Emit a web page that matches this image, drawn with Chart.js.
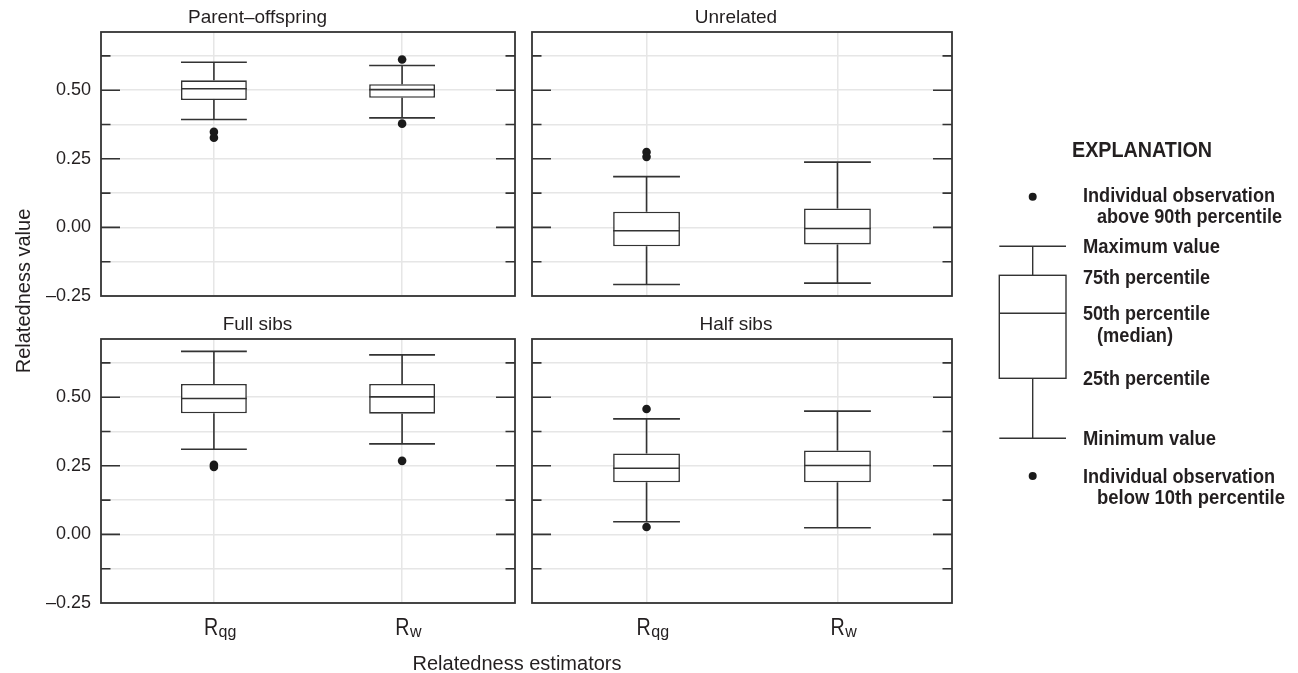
<!DOCTYPE html>
<html>
<head>
<meta charset="utf-8">
<script src="https://cdn.jsdelivr.net/npm/chart.js@4.4.1/dist/chart.umd.min.js"></script>
<style>
  html, body { margin: 0; padding: 0; background: #ffffff; width: 1298px; height: 673px; overflow: hidden; }
  canvas.panel { position: absolute; }
  svg#overlay { position: absolute; left: 0; top: 0; pointer-events: none; }
</style>
</head>
<body>
<canvas class="panel" id="p0"></canvas>
<canvas class="panel" id="p1"></canvas>
<canvas class="panel" id="p2"></canvas>
<canvas class="panel" id="p3"></canvas>

<svg id="overlay" width="1298" height="673" xmlns="http://www.w3.org/2000/svg">
  <text x="30" y="291" transform="rotate(-90 30 291)" text-anchor="middle"
        font-family="'Liberation Sans', Arial, sans-serif" font-size="20" fill="#231f20">Relatedness value</text>
  <text x="517" y="670" text-anchor="middle"
        font-family="'Liberation Sans', Arial, sans-serif" font-size="20" fill="#231f20">Relatedness estimators</text>

  <g font-family="'Liberation Sans', Arial, sans-serif" font-weight="bold" fill="#231f20">
    <text x="1072" y="157" font-size="22" textLength="140" lengthAdjust="spacingAndGlyphs">EXPLANATION</text>
    <text x="1083" y="202" font-size="20.5" textLength="192" lengthAdjust="spacingAndGlyphs">Individual observation</text>
    <text x="1097" y="223" font-size="20.5" textLength="185" lengthAdjust="spacingAndGlyphs">above 90th percentile</text>
    <text x="1083" y="253" font-size="20.5" textLength="137" lengthAdjust="spacingAndGlyphs">Maximum value</text>
    <text x="1083" y="284" font-size="20.5" textLength="127" lengthAdjust="spacingAndGlyphs">75th percentile</text>
    <text x="1083" y="320" font-size="20.5" textLength="127" lengthAdjust="spacingAndGlyphs">50th percentile</text>
    <text x="1097" y="342" font-size="20.5" textLength="76" lengthAdjust="spacingAndGlyphs">(median)</text>
    <text x="1083" y="385" font-size="20.5" textLength="127" lengthAdjust="spacingAndGlyphs">25th percentile</text>
    <text x="1083" y="445" font-size="20.5" textLength="133" lengthAdjust="spacingAndGlyphs">Minimum value</text>
    <text x="1083" y="483" font-size="20.5" textLength="192" lengthAdjust="spacingAndGlyphs">Individual observation</text>
    <text x="1097" y="504" font-size="20.5" textLength="188" lengthAdjust="spacingAndGlyphs">below 10th percentile</text>
  </g>
  <g stroke="#333" stroke-width="1.4" fill="none">
    <line x1="999.3" y1="246.3" x2="1066" y2="246.3"/>
    <line x1="1032.7" y1="246.3" x2="1032.7" y2="275.3"/>
    <rect x="999.3" y="275.3" width="66.7" height="103"/>
    <line x1="999.3" y1="313.3" x2="1066" y2="313.3"/>
    <line x1="1032.7" y1="378.3" x2="1032.7" y2="438.3"/>
    <line x1="999.3" y1="438.3" x2="1066" y2="438.3"/>
  </g>
  <circle cx="1032.7" cy="196.7" r="4" fill="#1a1a1a"/>
  <circle cx="1032.7" cy="476" r="4" fill="#1a1a1a"/>
</svg>

<script>
// ---------------- DATA ----------------
const panelTitles = ['Parent\u2013offspring', 'Unrelated', 'Full sibs', 'Half sibs'];
const estimatorMain = ['R', 'R'];
const estimatorSub = ['qg', 'w'];
const xPositions = [1, 2];
const yTickValues = [-0.25, -0.125, 0, 0.125, 0.25, 0.375, 0.5, 0.625];

// per panel: [Rqg, Rw]
const minValues    = [[0.393, 0.399], [-0.208, -0.203], [0.310, 0.330], [0.046, 0.024]];
const q1Values     = [[0.464, 0.472], [-0.069, -0.062], [0.441, 0.440], [0.190, 0.190]];
const medianValues = [[0.505, 0.502], [-0.012, -0.004], [0.495, 0.501], [0.241, 0.251]];
const q3Values     = [[0.536, 0.522], [0.057, 0.069],  [0.548, 0.548], [0.295, 0.306]];
const maxValues    = [[0.602, 0.590], [0.185, 0.238],  [0.667, 0.654], [0.421, 0.449]];
const outlierValues = [
  [[0.348, 0.327], [0.612, 0.378]],
  [[0.275, 0.257], []],
  [[0.254, 0.246], [0.268]],
  [[0.457, 0.027], []]
];

// ---------------- STYLE / LAYOUT ----------------
const FONT_REG = "'Liberation Sans', Arial, sans-serif";
const TEXT = '#231f20';
const LINE = '#333333';
const GRID = '#e6e6e6';
const BOX_FRAC = 0.35;
const Y_MIN = -0.25, Y_MAX = 0.712;
const X_MIN = 0.4, X_MAX = 2.6;

const layouts = [
  { left: 0,   top: 0,   w: 530, h: 322, areaL: 101, areaR: 515, areaT: 32,  areaB: 296, yLabels: true,  xLabels: false },
  { left: 520, top: 0,   w: 440, h: 322, areaL: 532, areaR: 952, areaT: 32,  areaB: 296, yLabels: false, xLabels: false },
  { left: 0,   top: 300, w: 530, h: 373, areaL: 101, areaR: 515, areaT: 339, areaB: 603, yLabels: true,  xLabels: true },
  { left: 520, top: 300, w: 440, h: 373, areaL: 532, areaR: 952, areaT: 339, areaB: 603, yLabels: false, xLabels: true }
];

function isMajor(v) { return Math.abs(v / 0.25 - Math.round(v / 0.25)) < 1e-6; }
function fmt(v) {
  const s = Math.abs(v).toFixed(2);
  return v < -1e-9 ? '\u2013' + s : s;
}

function whiskerPoints(p) {
  const pts = [];
  const h = BOX_FRAC / 2;
  xPositions.forEach((x, i) => {
    const mx = maxValues[p][i], q3 = q3Values[p][i], md = medianValues[p][i];
    const q1 = q1Values[p][i], mn = minValues[p][i];
    pts.push(
      { x: x - h, y: mx }, { x: x + h, y: mx }, { x: x, y: null },
      { x: x, y: mx }, { x: x, y: q3 }, { x: x, y: null },
      { x: x - h, y: md }, { x: x + h, y: md }, { x: x, y: null },
      { x: x, y: q1 }, { x: x, y: mn }, { x: x, y: null },
      { x: x - h, y: mn }, { x: x + h, y: mn }, { x: x, y: null }
    );
  });
  return pts;
}

function outlierPoints(p) {
  const pts = [];
  xPositions.forEach((x, i) => {
    outlierValues[p][i].forEach(v => pts.push({ x: x, y: v }));
  });
  return pts;
}

const framePlugin = {
  id: 'frameTicks',
  afterDraw(chart) {
    const ctx = chart.ctx, a = chart.chartArea, ys = chart.scales.y;
    ctx.save();
    ctx.strokeStyle = LINE;
    ctx.lineWidth = 1.6;
    yTickValues.forEach(v => {
      if (v <= Y_MIN + 1e-9) return;
      const py = ys.getPixelForValue(v);
      const len = isMajor(v) ? 19 : 9.5;
      ctx.beginPath();
      ctx.moveTo(a.left, py); ctx.lineTo(a.left + len, py);
      ctx.moveTo(a.right - len, py); ctx.lineTo(a.right, py);
      ctx.stroke();
    });
    ctx.lineWidth = 1.8;
    ctx.strokeRect(a.left, a.top, a.right - a.left, a.bottom - a.top);
    ctx.restore();
  }
};

function makeSubLabelPlugin(show) {
  return {
    id: 'subLabels',
    afterDraw(chart) {
      if (!show) return;
      const ctx = chart.ctx, xs = chart.scales.x, a = chart.chartArea;
      const squeeze = 0.82;
      ctx.save();
      ctx.fillStyle = TEXT;
      ctx.textAlign = 'left';
      ctx.textBaseline = 'alphabetic';
      xPositions.forEach((x, i) => {
        const cx = xs.getPixelForValue(x);
        ctx.font = '24px ' + FONT_REG;
        const wm = ctx.measureText(estimatorMain[i]).width * squeeze;
        ctx.font = '16px ' + FONT_REG;
        const ws = ctx.measureText(estimatorSub[i]).width;
        const x0 = cx - (wm + ws) / 2 + 6;
        const base = a.bottom + 32;
        ctx.save();
        ctx.translate(x0, base);
        ctx.scale(squeeze, 1);
        ctx.font = '24px ' + FONT_REG;
        ctx.fillText(estimatorMain[i], 0, 0);
        ctx.restore();
        ctx.font = '16px ' + FONT_REG;
        ctx.fillText(estimatorSub[i], x0 + wm + 0.5, base + 2);
      });
      ctx.restore();
    }
  };
}

layouts.forEach((L, p) => {
  const cv = document.getElementById('p' + p);
  cv.width = L.w; cv.height = L.h;
  cv.style.left = L.left + 'px'; cv.style.top = L.top + 'px';
  cv.style.width = L.w + 'px'; cv.style.height = L.h + 'px';

  const titleSpace = L.areaT - L.top;
  const lineH = 19 * 1.2;
  const padTop = titleSpace - lineH - 3.2;

  new Chart(cv.getContext('2d'), {
    type: 'bar',
    data: {
      datasets: [
        {
          type: 'scatter',
          data: outlierPoints(p),
          pointRadius: 4.3,
          pointBackgroundColor: '#1a1a1a',
          pointBorderWidth: 0,
          showLine: false,
          order: 0
        },
        {
          type: 'line',
          data: whiskerPoints(p),
          borderColor: LINE,
          borderWidth: 1.6,
          pointRadius: 0,
          fill: false,
          spanGaps: false,
          tension: 0,
          borderCapStyle: 'butt',
          order: 1
        },
        {
          type: 'bar',
          data: xPositions.map((x, i) => ({ x: x, y: [q1Values[p][i], q3Values[p][i]] })),
          backgroundColor: '#ffffff',
          borderColor: LINE,
          borderWidth: 1.6,
          borderSkipped: false,
          categoryPercentage: BOX_FRAC,
          barPercentage: 1.0,
          order: 2
        }
      ]
    },
    options: {
      responsive: false,
      animation: false,
      events: [],
      devicePixelRatio: 1,
      layout: {
        padding: { left: 0, top: 0, right: (L.left + L.w) - L.areaR, bottom: (L.top + L.h) - L.areaB }
      },
      plugins: {
        legend: { display: false },
        tooltip: { enabled: false },
        title: {
          display: true,
          text: panelTitles[p],
          color: TEXT,
          font: { family: FONT_REG, size: 19, weight: 'normal', lineHeight: 1.2 },
          padding: { top: padTop, bottom: 3.2 }
        }
      },
      scales: {
        x: {
          type: 'linear',
          min: X_MIN, max: X_MAX,
          offset: false,
          afterBuildTicks: s => { s.ticks = xPositions.map(v => ({ value: v })); },
          ticks: { display: false },
          grid: { color: GRID, lineWidth: 1.5, drawTicks: false, offset: false },
          border: { display: false },
          afterFit: s => { s.height = 0; }
        },
        y: {
          type: 'linear',
          min: Y_MIN, max: Y_MAX,
          afterBuildTicks: s => { s.ticks = yTickValues.map(v => ({ value: v })); },
          ticks: {
            display: L.yLabels,
            padding: 10,
            color: TEXT,
            font: { family: FONT_REG, size: 18 },
            callback: v => (isMajor(v) ? fmt(v) : '')
          },
          grid: { color: GRID, lineWidth: 1.5, drawTicks: false, offset: false },
          border: { display: false },
          afterFit: s => { s.width = L.areaL - L.left; }
        }
      }
    },
    plugins: [framePlugin, makeSubLabelPlugin(L.xLabels)]
  });
});
</script>
</body>
</html>
